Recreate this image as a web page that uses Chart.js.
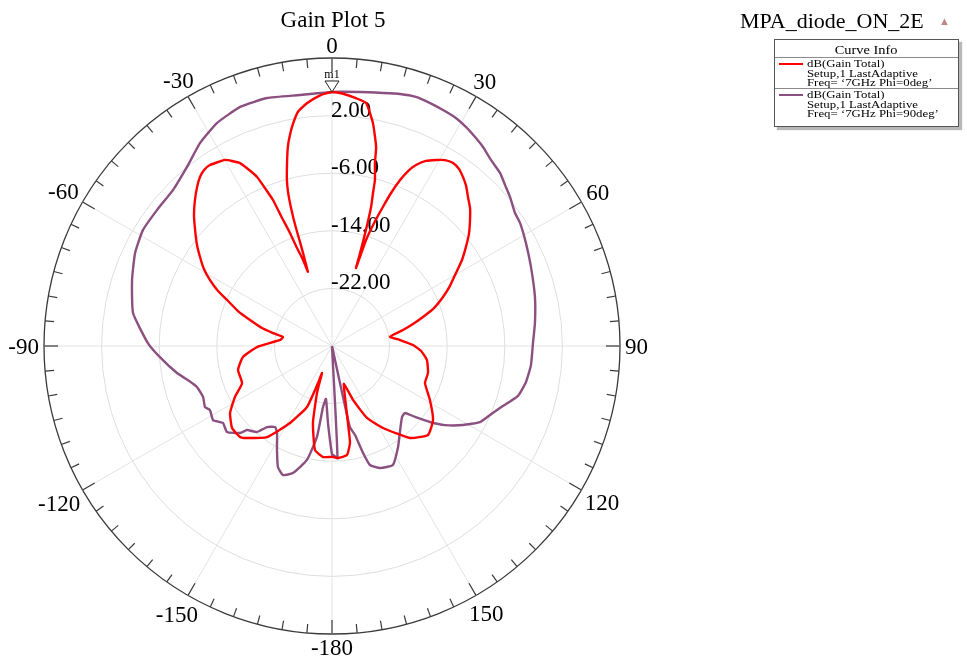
<!DOCTYPE html>
<html>
<head>
<meta charset="utf-8">
<script src="https://cdn.jsdelivr.net/npm/chart.js@4.4.1/dist/chart.umd.min.js"></script>
<style>
  html, body { margin: 0; padding: 0; background: #fff; overflow: hidden; width: 967px; height: 663px; }
  body { position: relative; font-family: "Liberation Serif", "DejaVu Serif", serif; color: #000; }
  #chart { position: absolute; left: 0; top: 0; }
  #title { position: absolute; left: 233px; width: 200px; top: 7px; text-align: center; font-size: 23px; line-height: 26px; }
  #project { position: absolute; left: 740px; top: 8px; font-size: 22px; line-height: 26px; white-space: nowrap; }
  #projmark { position: absolute; left: 939px; top: 15px; color: #c08585; font-size: 11px; line-height: 12px; }
  #legend { position: absolute; left: 774px; top: 39px; width: 183px; height: 86px; background: #fff; border: 1px solid #555;
            box-shadow: 3px 3px 1px #b8b8b8; }
  #legend .hdr { height: 17px; border-bottom: 1px solid #8a8a8a; text-align: center; }
  #legend .hdr span { display: inline-block; font-size: 12px; line-height: 17px; transform: scaleX(1.2); }
  #legend .entry { position: relative; height: 29px; padding-top: 1px; }
  #legend .entry + .entry { border-top: 1px solid #8a8a8a; }
  #legend .txt { position: absolute; left: 32px; top: 1px; font-size: 10.5px; line-height: 9.5px; white-space: nowrap;
                 transform: scaleX(1.22); transform-origin: 0 0; }
  #legend .swatch { position: absolute; left: 4px; top: 5px; width: 24px; height: 2px; }
</style>
</head>
<body>
<canvas id="chart" width="967" height="663"></canvas>
<div id="title">Gain Plot 5</div>
<div id="project">MPA_diode_ON_2E</div>
<div id="projmark">&#9650;</div>
<div id="legend">
  <div class="hdr"><span>Curve Info</span></div>
  <div class="entry"><span class="swatch" style="background:#ff0000"></span><div class="txt">dB(Gain Total)<br>Setup,1 LastAdaptive<br>Freq= &#8216;7GHz Phi=0deg&#8217;</div></div>
  <div class="entry"><span class="swatch" style="background:#8b4f80"></span><div class="txt">dB(Gain Total)<br>Setup,1 LastAdaptive<br>Freq= &#8216;7GHz Phi=90deg&#8217;</div></div>
</div>
<script>
// Radial range of the gain axis (dB) and ring spacing
const R_MIN = -30;
const R_MAX = 10;
const R_STEP = 8;
const ANGLE_STEP = 0.1;          // angular resolution of the theta axis, degrees
const ANGLE_LABEL_STEP = 30;     // labelled theta directions
const ANGLE_TICK_STEP = 5;       // rim tick spacing

// dB(Gain Total), Phi = 0deg : theta (deg) and gain (dB)
const phi0Theta = [-180, -175.4, -170.7, -166.1, -162.3, -159.7, -159.3, -157.7, -151.4, -144.5, -137.3, -134.7,
  -129.4, -123.3, -117.7, -112.4, -104.3, -97, -90.8, -83.4, -79.6, -77.6, -75.6, -72.4, -69.6, -66.3, -64.2,
  -61.6, -59, -56, -53, -49.7, -46.5, -43.2, -40.3, -38, -36, -34, -29.9, -28.4, -26.7, -25.4, -23.9, -23,
  -22, -21.4, -20.4, -19.8, -18.6, -18, -17.3, -17.1, -17, -16.8, -16.5, -16, -15.2, -13.8, -12.5, -11.3,
  -9.9, -8.3, -5.9, -2.7, 0, 2.5, 5.5, 8, 10.4, 12.5, 13.2, 14.5, 15, 15.7, 16.3, 16.8, 17.1, 17.8, 18.9,
  20.1, 21.1, 22.3, 23.5, 24.9, 26.9, 29.2, 31.3, 33.5, 35.7, 37.8, 40, 42.4, 45, 47.6, 50.7, 53.5, 56.5,
  59.5, 63, 66.2, 69.6, 72.3, 74.8, 77.3, 81, 85, 89.3, 93.2, 98.4, 105.7, 111.7, 118.9, 126.2, 132.8, 139.7,
  148.1, 154.1, 158.7, 162.5, 165.7, 168.3, 169.5, 172.2, 176.9];
const phi0Gain = [-14.6, -14.53, -15.36, -18.99, -23.15, -26.0, -24.5, -20.85, -17.82, -14.47, -12.6, -12.03,
  -12.04, -13.06, -14.78, -16.49, -16.53, -17.54, -19.58, -22.74, -23.08, -21.61, -19.96, -18.06, -16.07, -14.08, -12.42,
  -10.74, -9.25, -7.89, -6.5, -5.07, -3.57, -2.19, -1.03, -0.22, 0.22, 0.32, -0.19, -0.79, -1.56, -2.79, -4.32, -6.17,
  -8.13, -10.6, -13.25, -15.24, -17.39, -19.17, -16.53, -14.86, -13.19, -11.39, -9.86, -7.92, -6.11, -3.82, -1.67, -0.14,
  1.39, 2.85, 3.89, 4.86, 5.28, 5.07, 4.58, 4.08, 1.49, -1.69, -3.89, -6.18, -8.0, -9.94, -13.21, -16.51, -18.67, -14.54, -11.94,
  -9.44, -7.22, -5.08, -3.5, -2.29, -1.18, -0.4, 0.22, 0.47, 0.25, -0.31, -1.01, -1.99, -2.89, -4.04, -5.42, -6.86, -8.35,
  -10.01, -11.61, -13.15, -14.89, -16.74, -18.35, -19.89, -21.85, -20.5, -18.75, -17.6, -16.67, -16.15, -16.1, -14.46, -12.61, -11.82, -13.25,
  -16.58, -18.89, -21.96, -24.5, -22.7, -19.08, -16.29, -14.72, -14.42];

// dB(Gain Total), Phi = 90deg : theta (deg) and gain (dB); -30 marks values at or below the axis floor
const phi90Theta = [-180, -177, -173.5, -171.6, -170.6, -167.6, -162.9, -159.2, -155.9, -152.1, -147.7, -144.9,
  -141.3, -138.9, -134.7, -133.4, -129.3, -125.2, -121.9, -117.7, -115.7, -111.6, -106.9, -104, -99.9, -93.7,
  -89, -80.6, -71.7, -64.7, -58.5, -52.1, -45.5, -39, -33, -27.3, -21, -14.7, -7.3, 0, 6.3, 11.4, 15.1, 18.6,
  22, 25.2, 28.5, 31.5, 34.4, 37.2, 40.5, 44.2, 47.1, 50.1, 54, 56.8, 62, 68.3, 76.4, 83.5, 89.1, 95.5, 100.5,
  105, 110.3, 113.6, 117.2, 121.1, 125, 127.8, 130.5, 132.5, 135.4, 141.7, 146.8, 152.9, 158.5, 162.3, 163.8,
  165.5, 167.6, 168.2, 176.8, 177.2, 179.5];
const phi90Gain = [-14.9, -19.3, -22.6, -21.4, -17.2, -13.8, -11.54, -10.83, -11.6, -13.67, -15.71, -16.25,
  -15.57, -14.15, -13.4, -12.42, -11.15, -11.46, -10.54, -10.86, -10.43, -10.74, -10.4, -9.65, -8.15, -6.05,
  -4.4, -1.99, -0.75, 0.25, 0.8, 0.78, 0.94, 2.0, 3.63, 4.85, 5.57, 5.61, 5.14, 5.28, 5.49, 5.85, 6.25, 6.5,
  6.39, 6.22, 6.04, 5.65, 5.17, 4.69, 3.99, 3.5, 2.82, 2.24, 1.42, 1.21, 0.5, -0.26, -1.0, -1.63, -2.08, -2.24, -2.6,
  -3.25, -5.14, -6.05, -6.89, -8.75, -10.85, -12.78, -14.83, -16.24, -16.15, -14.78, -13.24, -11.43, -11.79, -12.65, -14.53,
  -17.23, -18.5, -30, -30, -14.4, -14.9];

const seriesNames = ['dB(Gain Total) Phi=0deg', 'dB(Gain Total) Phi=90deg'];
const seriesColors = ['#ff0000', '#8b4f80'];

// theta axis: one category per ANGLE_STEP, clockwise from the top
const thetaCount = Math.round(360 / ANGLE_STEP);
const thetaLabels = [];
for (let i = 0; i < thetaCount; i++) thetaLabels.push(Math.round(i * ANGLE_STEP * 10) / 10);

function angleText(a) {
  if (a === 180) return '-180';
  return String(a > 180 ? a - 360 : a);
}

function toPolarSeries(theta, gain) {
  const out = new Array(thetaCount).fill(null);
  theta.forEach((t, k) => {
    const idx = Math.round((((t % 360) + 360) % 360) / ANGLE_STEP) % thetaCount;
    out[idx] = gain[k];
  });
  return out;
}

const phi0Series = toPolarSeries(phi0Theta, phi0Gain);
const phi90Series = toPolarSeries(phi90Theta, phi90Gain);

// rim tick marks, theta labels, radial ring labels and the m1 marker
const polarDecor = {
  id: 'polarDecor',
  beforeDatasetsDraw(chart) {
    const s = chart.scales.r;
    const ctx = chart.ctx;
    const R = s.getDistanceFromCenterForValue(R_MAX);
    ctx.save();
    ctx.strokeStyle = '#3a3a3a';
    ctx.lineWidth = 1.2;
    for (let a = 0; a < 360; a += ANGLE_TICK_STEP) {
      const idx = Math.round(a / ANGLE_STEP);
      const len = a % ANGLE_LABEL_STEP === 0 ? 14 : 9;
      const p1 = s.getPointPosition(idx, R);
      const p2 = s.getPointPosition(idx, R - len);
      ctx.beginPath();
      ctx.moveTo(p1.x, p1.y);
      ctx.lineTo(p2.x, p2.y);
      ctx.stroke();
    }

    // theta labels, centred just outside the rim
    ctx.fillStyle = '#000';
    ctx.font = '23px "Liberation Serif"';
    ctx.textAlign = 'center';
    ctx.textBaseline = 'alphabetic';
    const glyphH = 15.5;
    for (let a = 0; a < 360; a += ANGLE_LABEL_STEP) {
      const txt = angleText(a);
      const w = ctx.measureText(txt).width;
      const rad = a * Math.PI / 180;
      const half = Math.abs(Math.sin(rad)) * w / 2 + Math.abs(Math.cos(rad)) * glyphH / 2;
      const p = s.getPointPosition(Math.round(a / ANGLE_STEP), R + 5 + half);
      ctx.fillText(txt, p.x, p.y + glyphH / 2);
    }

    // ring values along the 0 deg direction
    ctx.textAlign = 'left';
    s.ticks.forEach(t => {
      if (t.value <= R_MIN || t.value >= R_MAX) return;
      const d = s.getDistanceFromCenterForValue(t.value);
      ctx.fillText(t.value.toFixed(2), s.xCenter - 1, s.yCenter - d + 1);
    });
    ctx.restore();
  },
  afterDatasetsDraw(chart) {
    const s = chart.scales.r;
    const ctx = chart.ctx;
    const p = s.getPointPosition(0, s.getDistanceFromCenterForValue(phi0Series[0]));
    ctx.save();
    ctx.beginPath();
    ctx.moveTo(p.x, p.y);
    ctx.lineTo(p.x - 7, p.y - 11);
    ctx.lineTo(p.x + 7, p.y - 11);
    ctx.closePath();
    ctx.fillStyle = '#fff';
    ctx.fill();
    ctx.strokeStyle = '#222';
    ctx.lineWidth = 1;
    ctx.stroke();
    ctx.fillStyle = '#000';
    ctx.font = '12px "Liberation Serif"';
    ctx.textAlign = 'center';
    ctx.textBaseline = 'alphabetic';
    ctx.fillText('m1', p.x, p.y - 14);
    ctx.restore();
  }
};

new Chart(document.getElementById('chart'), {
  type: 'radar',
  data: {
    labels: thetaLabels,
    datasets: [
      { label: seriesNames[0], data: phi0Series, borderColor: seriesColors[0], spanGaps: true, fill: false },
      { label: seriesNames[1], data: phi90Series, borderColor: seriesColors[1], spanGaps: true, fill: false }
    ]
  },
  options: {
    responsive: false,
    animation: false,
    devicePixelRatio: 1,
    layout: { padding: { left: 44, right: 347, top: 58, bottom: 29 } },
    plugins: { legend: { display: false }, tooltip: { enabled: false } },
    elements: {
      point: { radius: 0, hoverRadius: 0 },
      line: { tension: 0.15, borderWidth: 2.4 }
    },
    scales: {
      r: {
        min: R_MIN,
        max: R_MAX,
        startAngle: 0,
        ticks: { display: false, stepSize: R_STEP },
        grid: {
          circular: true,
          color: c => (c.tick && c.tick.value === R_MAX) ? '#3a3a3a' : '#dedede',
          lineWidth: c => (c.tick && c.tick.value === R_MAX) ? 1.3 : 1
        },
        angleLines: {
          display: true,
          color: '#e3e3e3',
          lineWidth: c => (thetaLabels[c.index] % ANGLE_LABEL_STEP === 0) ? 1 : 0
        },
        pointLabels: { display: false }
      }
    }
  },
  plugins: [polarDecor]
});
</script>
</body>
</html>
